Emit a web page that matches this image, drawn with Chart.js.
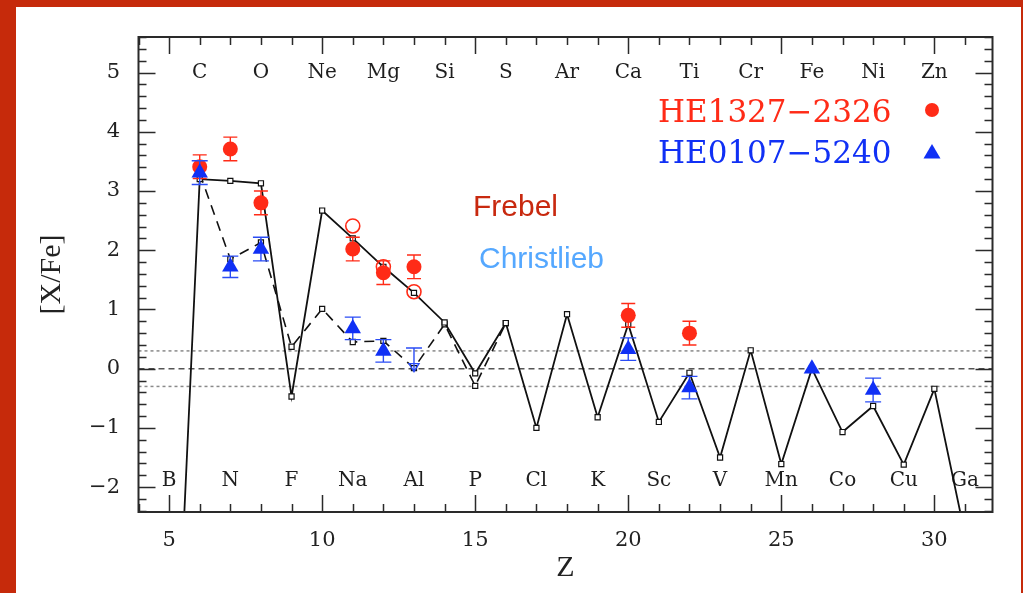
<!DOCTYPE html>
<html lang="en">
<head>
    <meta charset="UTF-8">
    <title>[X/Fe] versus Z</title>
    <script src="https://cdn.jsdelivr.net/npm/chart.js"></script>
    <style>
        html, body { margin: 0; padding: 0; background: #fff; overflow: hidden; }
        .chart-container { position: relative; width: 1023px; height: 593px; }
    </style>
</head>
<body>
    <div class="chart-container">
        <canvas id="abundChart"></canvas>
    </div>

    <script>
        // Element names written along the top and bottom of the plot
        const topElements = ['C', 'O', 'Ne', 'Mg', 'Si', 'S', 'Ar', 'Ca', 'Ti', 'Cr', 'Fe', 'Ni', 'Zn'];
        const topZ = [6, 8, 10, 12, 14, 16, 18, 20, 22, 24, 26, 28, 30];
        const bottomElements = ['B', 'N', 'F', 'Na', 'Al', 'P', 'Cl', 'K', 'Sc', 'V', 'Mn', 'Co', 'Cu', 'Ga'];
        const bottomZ = [5, 7, 9, 11, 13, 15, 17, 19, 21, 23, 25, 27, 29, 31];

        // Tick labels
        const xTicks = [5, 10, 15, 20, 25, 30];
        const yTicks = [-2, -1, 0, 1, 2, 3, 4, 5];

        // Model yields (solid line with squares)
        const modelZ = [5, 6, 7, 8, 9, 10, 11, 12, 13, 14, 15, 16, 17, 18, 19, 20, 21, 22, 23, 24, 25, 26, 27, 28, 29, 30, 31];
        const modelA = [-8.0, 3.20, 3.17, 3.13, -0.47, 2.67, 2.20, 1.72, 1.28, 0.78, -0.08, 0.77, -1.00, 0.92, -0.82, 0.75, -0.90, -0.07, -1.50, 0.31, -1.61, 0.00, -1.07, -0.63, -1.62, -0.34, -2.80];

        // Second model (dashed line with squares)
        const modelBZ = [6, 7, 8, 9, 10, 11, 12, 13, 14, 15, 16];
        const modelB = [3.30, 1.85, 2.13, 0.37, 1.01, 0.45, 0.47, 0.01, 0.75, -0.29, 0.77];

        // HE1327-2326 (red circles)
        const redZ = [6, 7, 8, 11, 12, 13, 20, 22];
        const redY = [3.41, 3.71, 2.80, 2.02, 1.62, 1.72, 0.90, 0.60];
        const redErr = [0.2, 0.2, 0.2, 0.2, 0.2, 0.2, 0.2, 0.2];
        const redOpenZ = [11, 12, 13];
        const redOpenY = [2.41, 1.72, 1.30];

        // HE0107-5240 (blue triangles)
        const blueZ = [6, 7, 8, 11, 12, 20, 22, 26, 28];
        const blueY = [3.31, 1.72, 2.02, 0.68, 0.30, 0.33, -0.32, 0.0, -0.36];
        const blueErr = [0.2, 0.18, 0.2, 0.19, 0.19, 0.19, 0.19, 0, 0.2];
        const blueLimitZ = [13];
        const blueLimitY = [0.35];

        // Horizontal reference levels
        const refLevels = [0.3, 0, -0.3];

        const xMin = 4, xMax = 31.9, yMin = -2.42, yMax = 5.6;

        const RED = '#ff2b17';
        const BLUE = '#1030f5';
        const toPoints = (xs, ys) => xs.map((v, i) => ({ x: v, y: ys[i] }));
        const minus = v => String(v).replace('-', '\u2212');

        const refDatasets = refLevels.map(lv => ({
            data: [{ x: xMin, y: lv }, { x: xMax, y: lv }],
            showLine: true,
            borderColor: lv === 0 ? '#555' : '#8a8a8a',
            borderWidth: 1.5,
            borderDash: lv === 0 ? [6, 4] : [3, 3],
            pointRadius: 0,
            order: 6
        }));

        // background, frame, ticks, labels
        const framePlugin = {
            id: 'frame',
            beforeDraw(chart) {
                const ctx = chart.ctx;
                ctx.save();
                ctx.fillStyle = '#fff';
                ctx.fillRect(0, 0, chart.width, chart.height);
                ctx.fillStyle = '#c62a0b';
                ctx.fillRect(0, 0, chart.width, 7);
                ctx.fillRect(0, 0, 16, chart.height);
                ctx.fillRect(chart.width - 2, 0, 2, chart.height);
                ctx.restore();
            },
            beforeDatasetsDraw(chart) {
                const { ctx, chartArea: a, scales: { x, y } } = chart;
                ctx.save();
                ctx.fillStyle = '#1e1e1e';
                ctx.font = '20px "DejaVu Serif"';
                ctx.textAlign = 'center';
                ctx.textBaseline = 'middle';
                topElements.forEach((el, i) => ctx.fillText(el, x.getPixelForValue(topZ[i]), y.getPixelForValue(5.0)));
                bottomElements.forEach((el, i) => ctx.fillText(el, x.getPixelForValue(bottomZ[i]), y.getPixelForValue(-1.9)));

                ctx.textAlign = 'left';
                ctx.textBaseline = 'alphabetic';
                ctx.font = '31px "DejaVu Serif"';
                ctx.fillStyle = RED;
                ctx.fillText('HE1327\u22122326', 658, 122);
                ctx.fillStyle = BLUE;
                ctx.fillText('HE0107\u22125240', 658, 163);

                ctx.fillStyle = RED;
                ctx.beginPath();
                ctx.arc(932, 110, 7, 0, Math.PI * 2);
                ctx.fill();
                ctx.fillStyle = BLUE;
                ctx.beginPath();
                ctx.moveTo(932, 144);
                ctx.lineTo(940.5, 158.5);
                ctx.lineTo(923.5, 158.5);
                ctx.closePath();
                ctx.fill();

                ctx.font = '30px "Liberation Sans"';
                ctx.fillStyle = '#c8290f';
                ctx.fillText('Frebel', 473, 216);
                ctx.fillStyle = '#55a8ff';
                ctx.fillText('Christlieb', 479, 268);
                ctx.restore();
            },
            afterDraw(chart) {
                const { ctx, chartArea: a, scales: { x, y } } = chart;
                ctx.save();
                ctx.strokeStyle = '#2a2a2a';
                ctx.lineWidth = 1.5;
                ctx.beginPath();
                for (let z = Math.ceil(x.min); z <= x.max; z++) {
                    const px = Math.round(x.getPixelForValue(z)) + 0.5;
                    const len = z % 5 === 0 ? 17 : 8;
                    ctx.moveTo(px, a.bottom); ctx.lineTo(px, a.bottom - len);
                    ctx.moveTo(px, a.top); ctx.lineTo(px, a.top + len);
                }
                for (let i = Math.ceil(y.min * 5); i <= Math.floor(y.max * 5); i++) {
                    const py = Math.round(y.getPixelForValue(i / 5)) + 0.5;
                    const len = i % 5 === 0 ? 17 : 8;
                    ctx.moveTo(a.left, py); ctx.lineTo(a.left + len, py);
                    ctx.moveTo(a.right, py); ctx.lineTo(a.right - len, py);
                }
                ctx.stroke();
                ctx.lineWidth = 2;
                ctx.strokeRect(a.left, a.top, a.right - a.left, a.bottom - a.top);
                ctx.restore();
            }
        };

        // error bars and upper limits, drawn just under each dataset's markers
        const errorBars = {
            id: 'errorBars',
            beforeDatasetDraw(chart, args) {
                const ds = chart.data.datasets[args.index];
                if (!ds.errors) return;
                const { ctx, chartArea: a, scales: { x, y } } = chart;
                ctx.save();
                ctx.beginPath();
                ctx.rect(a.left, a.top, a.right - a.left, a.bottom - a.top);
                ctx.clip();
                ctx.strokeStyle = ds.barColor;
                ctx.lineWidth = 1.4;
                ctx.beginPath();
                ds.errors.forEach((e, i) => {
                    if (!e) return;
                    const p = ds.data[i];
                    const px = x.getPixelForValue(p.x);
                    const top = y.getPixelForValue(p.y + e);
                    const bot = y.getPixelForValue(p.y - e);
                    ctx.moveTo(px, top); ctx.lineTo(px, bot);
                    ctx.moveTo(px - ds.capHalf, top); ctx.lineTo(px + ds.capHalf, top);
                    ctx.moveTo(px - ds.capHalf, bot); ctx.lineTo(px + ds.capHalf, bot);
                });
                (ds.limitZ || []).forEach((z, i) => {
                    const px = x.getPixelForValue(z);
                    const top = y.getPixelForValue(ds.limitY[i]);
                    const tip = y.getPixelForValue(ds.limitY[i] - 0.4);
                    ctx.moveTo(px - ds.capHalf, top); ctx.lineTo(px + ds.capHalf, top);
                    ctx.moveTo(px, top); ctx.lineTo(px, tip);
                    ctx.moveTo(px - 5, tip - 8); ctx.lineTo(px, tip); ctx.lineTo(px + 5, tip - 8);
                    ctx.closePath();
                });
                ctx.stroke();
                ctx.restore();
            }
        };

        const ctx = document.getElementById('abundChart').getContext('2d');
        const chart = new Chart(ctx, {
            type: 'scatter',
            data: {
                datasets: [
                    ...refDatasets,
                    {
                        data: toPoints(modelBZ, modelB),
                        showLine: true,
                        borderColor: '#111',
                        borderWidth: 1.6,
                        borderDash: [10, 7],
                        pointStyle: 'rect',
                        pointRadius: 3.6,
                        pointBorderWidth: 1.2,
                        pointBackgroundColor: '#fff',
                        pointBorderColor: '#111',
                        order: 5
                    },
                    {
                        data: toPoints(modelZ, modelA),
                        showLine: true,
                        borderColor: '#111',
                        borderWidth: 1.8,
                        pointStyle: 'rect',
                        pointRadius: 3.6,
                        pointBorderWidth: 1.2,
                        pointBackgroundColor: '#fff',
                        pointBorderColor: '#111',
                        order: 4
                    },
                    {
                        data: toPoints(redOpenZ, redOpenY),
                        pointStyle: 'circle',
                        pointRadius: 7,
                        pointBorderWidth: 1.6,
                        pointBackgroundColor: 'rgba(0,0,0,0)',
                        pointBorderColor: RED,
                        order: 3
                    },
                    {
                        data: toPoints(redZ, redY),
                        errors: redErr,
                        barColor: RED,
                        capHalf: 7,
                        pointStyle: 'circle',
                        pointRadius: 7.5,
                        pointBorderWidth: 0,
                        pointBackgroundColor: RED,
                        order: 2
                    },
                    {
                        data: toPoints(blueZ, blueY),
                        errors: blueErr,
                        limitZ: blueLimitZ,
                        limitY: blueLimitY,
                        barColor: '#2a4cf5',
                        capHalf: 8,
                        pointStyle: 'triangle',
                        pointRadius: 9.5,
                        pointBorderWidth: 0,
                        pointBackgroundColor: BLUE,
                        order: 1
                    }
                ]
            },
            options: {
                responsive: true,
                maintainAspectRatio: false,
                animation: false,
                layout: { padding: { top: 37, right: 30.5, bottom: 0, left: 0 } },
                plugins: {
                    legend: { display: false },
                    tooltip: { enabled: false }
                },
                scales: {
                    x: {
                        type: 'linear',
                        min: xMin,
                        max: xMax,
                        grid: { display: false, drawTicks: false },
                        border: { display: false },
                        afterBuildTicks: s => { s.ticks = xTicks.map(v => ({ value: v })); },
                        afterFit: s => { s.height = 81; },
                        ticks: {
                            padding: 16,
                            color: '#222',
                            font: { family: '"DejaVu Serif"', size: 21 },
                            callback: v => minus(v)
                        },
                        title: {
                            display: true,
                            text: 'Z',
                            color: '#222',
                            font: { family: '"Liberation Serif"', size: 30 },
                            padding: { top: 0, bottom: 7 }
                        }
                    },
                    y: {
                        type: 'linear',
                        min: yMin,
                        max: yMax,
                        grid: { display: false, drawTicks: false },
                        border: { display: false },
                        afterBuildTicks: s => { s.ticks = yTicks.map(v => ({ value: v })); },
                        afterFit: s => { s.width = 138.5; },
                        ticks: {
                            padding: 18.5,
                            color: '#222',
                            font: { family: '"DejaVu Serif"', size: 21 },
                            callback: v => minus(v)
                        },
                        title: {
                            display: true,
                            text: '[X/Fe]',
                            color: '#222',
                            font: { family: '"Liberation Serif"', size: 30 },
                            padding: { top: 34, bottom: 0 }
                        }
                    }
                }
            },
            plugins: [framePlugin, errorBars]
        });
    </script>
</body>
</html>
